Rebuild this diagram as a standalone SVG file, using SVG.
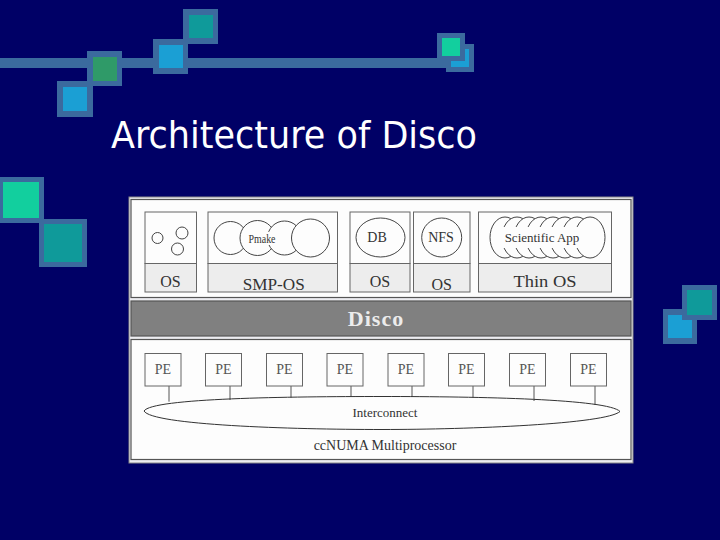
<svg xmlns="http://www.w3.org/2000/svg" width="720" height="540" viewBox="0 0 720 540">
<style>
.fr{fill:#3b6a9e}
.blu{fill:#1b9fd4}
.grn{fill:#2f9a68}
.tea{fill:#0f9a9a}
.mint{fill:#12cf9e}
.box{fill:#fdfdfd;stroke:#666;stroke-width:1}
.lab{fill:#ededed;stroke:#666;stroke-width:1}
.sec{fill:#fdfdfd;stroke:#555;stroke-width:1.2}
.ln{fill:none;stroke:#555;stroke-width:1}
.cl{fill:#fdfdfd;stroke:#444;stroke-width:1}
.t{font-family:"Liberation Serif",serif;fill:#333;text-anchor:middle}
.pe{font-family:"Liberation Serif",serif;fill:#555;text-anchor:middle;font-size:14px}
</style>
<rect width="720" height="540" fill="#000066"/>
<g id="decor">
<rect class="fr" x="0" y="58" width="452" height="10"/>
<rect class="fr" x="57" y="81" width="36" height="36"/><rect class="blu" x="63" y="87" width="24" height="24"/>
<rect class="fr" x="87" y="51" width="35" height="35"/><rect class="grn" x="93" y="57" width="24" height="24"/>
<rect class="fr" x="153" y="39" width="35" height="35"/><rect class="blu" x="159" y="45" width="24" height="23"/>
<rect class="fr" x="183" y="9" width="35" height="35"/><rect class="tea" x="189" y="15" width="24" height="23"/>
<rect class="fr" x="446" y="44" width="28" height="28"/><rect class="blu" x="451" y="49" width="18" height="18"/>
<rect class="fr" x="437" y="33" width="28" height="28"/><rect class="mint" x="442" y="38" width="18" height="18"/>
<rect class="fr" x="-2" y="177" width="46" height="46"/><rect class="mint" x="3" y="182" width="36" height="36"/>
<rect class="fr" x="39" y="219" width="48" height="48"/><rect class="tea" x="44" y="224" width="38" height="38"/>
<rect class="fr" x="663" y="309" width="34" height="35"/><rect class="blu" x="668" y="315" width="24" height="23"/>
<rect class="fr" x="682" y="285" width="35" height="35"/><rect class="tea" x="687" y="290" width="25" height="25"/>
</g>
<text id="title" x="111" y="148" font-family="DejaVu Sans,sans-serif" font-size="38" fill="#ffffff" textLength="366" lengthAdjust="spacingAndGlyphs">Architecture of Disco</text>
<g id="panel">
<rect x="129" y="197" width="504" height="266" fill="#ececf0" stroke="#888" stroke-width="1"/>
<rect class="sec" x="131" y="199.5" width="500" height="98"/>
<rect x="131" y="301" width="500" height="35" fill="#808080" stroke="#555" stroke-width="1.2"/>
<rect class="sec" x="131" y="339.5" width="500" height="120"/>
</g>
<g id="vm1">
<rect class="box" x="145" y="212" width="51.5" height="51.5"/>
<rect class="lab" x="145" y="263.5" width="51.5" height="28.5"/>
<circle class="cl" cx="157.5" cy="238" r="5.5"/>
<circle class="cl" cx="182" cy="233" r="6"/>
<circle class="cl" cx="177.5" cy="249" r="6"/>
<text class="t" x="170.5" y="286.5" font-size="16">OS</text>
</g>
<g id="vm2">
<rect class="box" x="208" y="212" width="129.5" height="51.5"/>
<rect class="lab" x="208" y="263.5" width="129.5" height="28.5"/>
<circle class="cl" cx="230.5" cy="238" r="16.5"/>
<circle class="cl" cx="257.5" cy="238" r="17.5"/>
<circle class="cl" cx="284.5" cy="238" r="17"/>
<circle class="cl" cx="310.5" cy="238" r="19"/>
<rect x="248" y="232" width="28" height="13" fill="#fdfdfd"/>
<text class="t" x="262" y="243" font-size="12" textLength="27" lengthAdjust="spacingAndGlyphs">Pmake</text>
<text class="t" x="273.7" y="289.5" font-size="16" textLength="62" lengthAdjust="spacingAndGlyphs">SMP-OS</text>
</g>
<g id="vm3">
<rect class="box" x="350" y="212" width="60" height="51.5"/>
<rect class="lab" x="350" y="263.5" width="60" height="28.5"/>
<ellipse class="cl" cx="380.5" cy="237.5" rx="24.5" ry="19.5"/>
<text class="t" x="377" y="241.5" font-size="14">DB</text>
<text class="t" x="380" y="286.5" font-size="16">OS</text>
</g>
<g id="vm4">
<rect class="box" x="413.5" y="212" width="56.5" height="51.5"/>
<rect class="lab" x="413.5" y="263.5" width="56.5" height="28.5"/>
<ellipse class="cl" cx="441.7" cy="237.5" rx="20" ry="19.5"/>
<text class="t" x="441" y="241.5" font-size="14">NFS</text>
<text class="t" x="441.7" y="289.5" font-size="16">OS</text>
</g>
<g id="vm5">
<rect class="box" x="478.5" y="212" width="133" height="51.5"/>
<rect class="lab" x="478.5" y="263.5" width="133" height="28.5"/>
<ellipse class="cl" cx="505" cy="237.5" rx="15" ry="20.5"/>
<ellipse class="cl" cx="517" cy="237.5" rx="15" ry="20.5"/>
<ellipse class="cl" cx="529" cy="237.5" rx="15" ry="20.5"/>
<ellipse class="cl" cx="541" cy="237.5" rx="15" ry="20.5"/>
<ellipse class="cl" cx="553" cy="237.5" rx="15" ry="20.5"/>
<ellipse class="cl" cx="565" cy="237.5" rx="15" ry="20.5"/>
<ellipse class="cl" cx="577" cy="237.5" rx="15" ry="20.5"/>
<ellipse class="cl" cx="590" cy="237.5" rx="15" ry="20.5"/>
<rect x="495" y="227" width="103" height="21" fill="#fdfdfd"/>
<text class="t" x="542" y="241.5" font-size="13">Scientific App</text>
<text class="t" x="545" y="286.5" font-size="16" textLength="63" lengthAdjust="spacingAndGlyphs">Thin OS</text>
</g>
<g id="disco">
<text x="376" y="326" font-family="Liberation Serif,serif" font-weight="bold" font-size="22" fill="#ececec" text-anchor="middle" letter-spacing="1">Disco</text>
</g>
<g id="connectors">
<path class="ln" d="M169,386 V401.7 M230,386 V400 M291,386 V397.7 M351,386 V396.7 M412,386 V397 M473,386 V397.7 M534,386 V401 M595,386 V405"/>
</g>
<g id="interconnect">
<path fill="none" stroke="#333" stroke-width="1" d="M144,411 C152,398 290,396.5 382,396.5 C480,396.5 608,399 620,411.5 C606,424 470,429.5 382,429.5 C290,429.5 152,425 144,411 Z"/>
<text class="t" x="385" y="417.3" font-size="13" fill="#444">Interconnect</text>
</g>
<g id="pes">
<rect class="box" x="145" y="353.5" width="36" height="32.5"/><text class="pe" x="163" y="373.5">PE</text>
<rect class="box" x="205.5" y="353.5" width="36" height="32.5"/><text class="pe" x="223.5" y="373.5">PE</text>
<rect class="box" x="266.5" y="353.5" width="36" height="32.5"/><text class="pe" x="284.5" y="373.5">PE</text>
<rect class="box" x="327" y="353.5" width="36" height="32.5"/><text class="pe" x="345" y="373.5">PE</text>
<rect class="box" x="388" y="353.5" width="36" height="32.5"/><text class="pe" x="406" y="373.5">PE</text>
<rect class="box" x="448.5" y="353.5" width="36" height="32.5"/><text class="pe" x="466.5" y="373.5">PE</text>
<rect class="box" x="509.5" y="353.5" width="36" height="32.5"/><text class="pe" x="527.5" y="373.5">PE</text>
<rect class="box" x="570.5" y="353.5" width="36" height="32.5"/><text class="pe" x="588.5" y="373.5">PE</text>
</g>
<text class="t" x="385" y="450" font-size="14">ccNUMA Multiprocessor</text>
</svg>
